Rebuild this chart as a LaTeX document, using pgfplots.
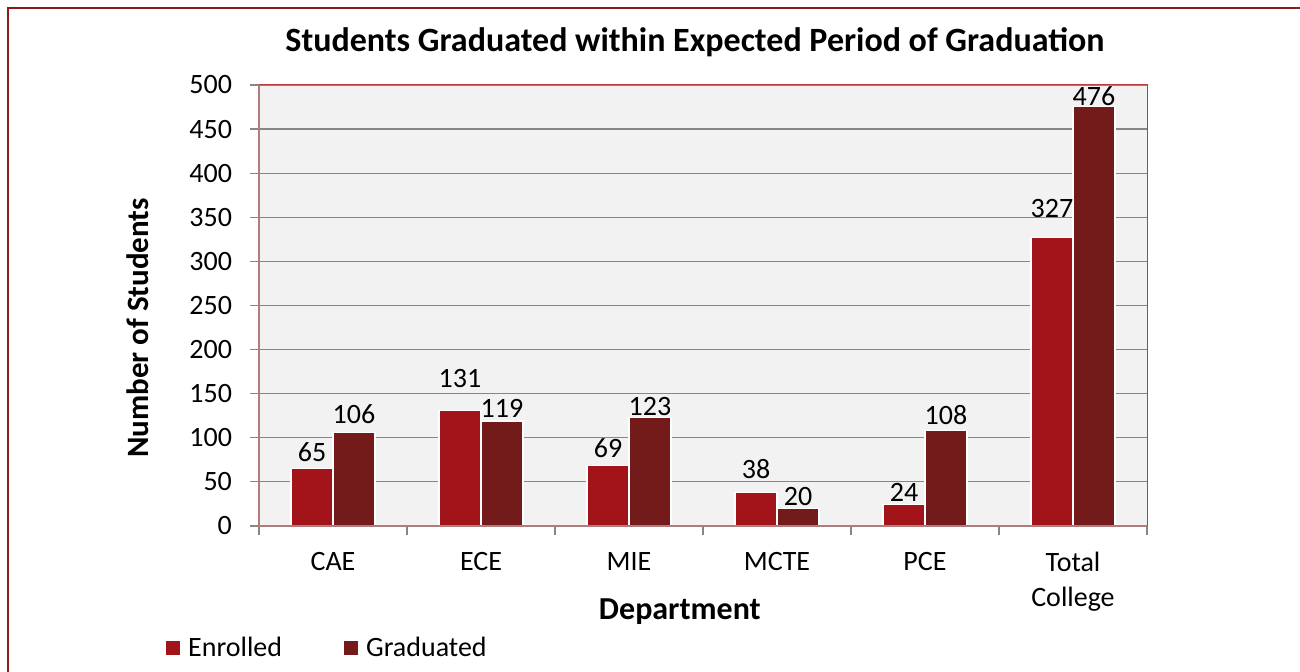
\documentclass[border=0pt]{standalone}
\usepackage{fontspec}
\setmainfont{Carlito}
\usepackage{pgfplots}
\usepackage{pgfplotstable}
\pgfplotsset{compat=1.18}
\definecolor{enr}{HTML}{A3141A}
\definecolor{grad}{HTML}{731A1A}
\definecolor{plotbg}{HTML}{F2F2F2}
\definecolor{gridc}{HTML}{868686}
\definecolor{frame}{HTML}{8E1B1B}
\definecolor{areab}{HTML}{C0393B}
\definecolor{axisl}{HTML}{B07C7C}

\pgfplotstableread{
x enr dyE grad dyG
0 65 3.5 106 4.5
1 131 11.5 119 2
2 69 4 123 1.2
3 38 7 20 1.5
4 24 1.5 108 3
5 327 10 476 0.5
}\data

\begin{document}
\begin{tikzpicture}
\useasboundingbox (0,0) rectangle (650pt,336pt);
\draw[frame, line width=1pt] (4pt,-20pt) rectangle (680pt,332pt);
\begin{axis}[
  at={(129.5pt,73pt)}, anchor=south west,
  scale only axis, width=444pt, height=220.5pt,
  ybar=0pt, bar width=21pt,
  xmin=-0.5, xmax=5.5, ymin=0, ymax=500,
  ytick={0,50,...,500},
  xtick={0,...,5},
  xticklabels={CAE,ECE,MIE,MCTE,PCE,{Total\\College}},
  minor xtick={-0.5,0.5,...,5.5},
  xtick pos=bottom, ytick pos=left,
  tick align=outside,
  major tick length=4.5pt, minor tick length=4.5pt,
  major x tick style={draw=none},
  minor x tick style={gridc, line width=0.6pt},
  major y tick style={gridc, line width=0.6pt},
  ymajorgrids, major grid style={gridc, line width=0.6pt},
  axis line style={draw=none},
  axis background/.style={fill=plotbg},
  /pgf/number format/assume math mode=true,
  tick label style={font=\fontsize{14}{17.5}\selectfont, text=black},
  xticklabel style={align=center, yshift=-5pt},
  yticklabel style={xshift=-5.5pt},
  title={\bfseries Students Graduated within Expected Period of Graduation},
  every axis title/.style={at={(axis description cs:0.491,1.075)}, anchor=base, font=\fontsize{17}{20}\selectfont},
  xlabel={\bfseries Department},
  every axis x label/.style={at={(axis description cs:0.474,-0.211)}, anchor=base, font=\fontsize{16}{19}\selectfont},
  ylabel={\bfseries Number of Students},
  every axis y label/.style={at={(axis description cs:-0.137,0.449)}, rotate=90, anchor=center, font=\fontsize{15.5}{19}\selectfont},
  legend columns=2,
  legend style={at={(axis description cs:-0.105,-0.277)}, anchor=west, draw=none, fill=none, inner sep=0pt,
    font=\fontsize{14}{17}\selectfont,
    nodes={inner xsep=4pt},
    /tikz/every even column/.append style={column sep=27pt}},
  legend cell align=left,
  legend image code/.code={\fill[#1,draw=none] (0pt,-3.5pt) rectangle (7pt,3.5pt);},
  every node near coord/.append style={font=\fontsize{14}{17}\selectfont, text=black, anchor=base},
  after end axis/.code={
    \draw[areab, line width=0.5pt] (rel axis cs:0,1) -- (rel axis cs:1,1) -- (rel axis cs:1,0);
    \draw[axisl, line width=1pt] (rel axis cs:0,1) -- (rel axis cs:0,0) -- (rel axis cs:1,0);
  },
]
\addplot[fill=enr, draw=white, line width=0.6pt,
  visualization depends on={\thisrow{dyE} \as \dy},
  nodes near coords,
  every node near coord/.append style={yshift=\dy pt}]
  table[x=x, y=enr]{\data};
\addplot[fill=grad, draw=white, line width=0.6pt,
  visualization depends on={\thisrow{dyG} \as \dy},
  nodes near coords,
  every node near coord/.append style={yshift=\dy pt}]
  table[x=x, y=grad]{\data};
\legend{Enrolled, Graduated}
\end{axis}
\end{tikzpicture}
\end{document}
